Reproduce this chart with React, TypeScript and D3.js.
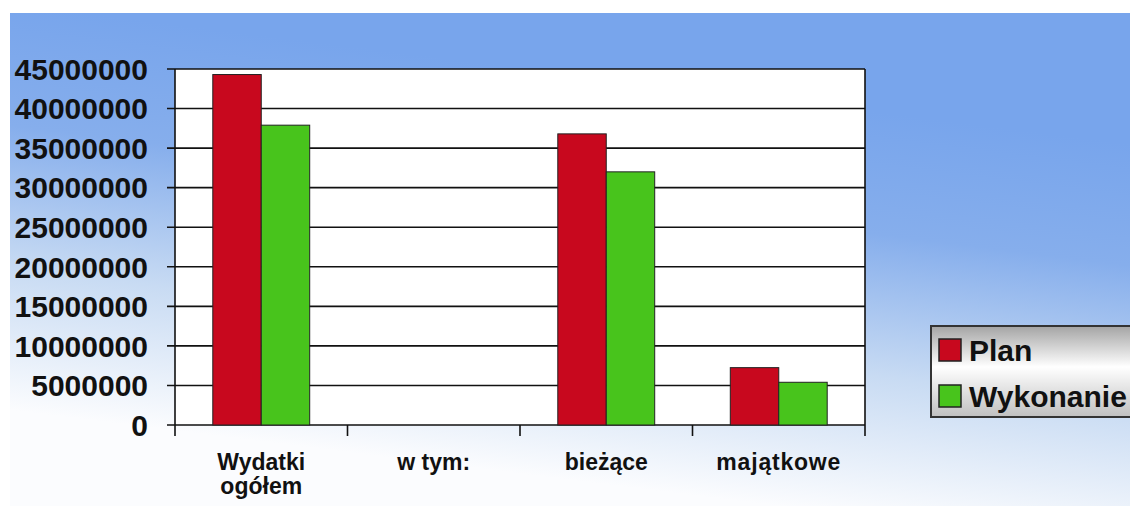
import React from "react";
import * as d3 from "d3";

const categories = ["Wydatki ogółem", "w tym:", "bieżące", "majątkowe"];
const categoryLines = [["Wydatki", "ogółem"], ["w tym:"], ["bieżące"], ["majątkowe"]];
const seriesNames = ["Plan", "Wykonanie"];
const planValues = [44300000, 0, 36800000, 7250000];
const wykonanieValues = [37900000, 0, 32000000, 5400000];
const seriesColors = ["#c8081e", "#48c41c"];

const width = 1130;
const height = 506;
const plot = { left: 175, right: 865, top: 69, bottom: 425 };
const font = "'Liberation Sans', Arial, sans-serif";

const App = () => {
  const y = d3.scaleLinear().domain([0, 45000000]).range([plot.bottom, plot.top]);
  const x0 = d3.scaleBand<string>().domain(categories).range([plot.left, plot.right]).padding(0);
  const x1 = d3
    .scaleBand<string>()
    .domain(seriesNames)
    .range([0, x0.bandwidth()])
    .paddingInner(0)
    .paddingOuter(0.78);
  const yTicks = y.ticks(10);
  const series = [planValues, wykonanieValues];
  const tickEdges = [...categories.map((c) => x0(c) as number), plot.right];

  return (
    <svg
      width={width}
      height={height}
      style={{ position: "absolute", left: 0, top: 0, display: "block" }}
    >
      <defs>
        <linearGradient id="bg" gradientUnits="userSpaceOnUse" x1={620} y1={80} x2={570} y2={480}>
          <stop offset="0" stopColor="#78a5ec" />
          <stop offset="0.3" stopColor="#86aeec" />
          <stop offset="0.65" stopColor="#c8dbf3" />
          <stop offset="1" stopColor="#fbfcfe" />
        </linearGradient>
        <linearGradient id="legbg" x1="0" y1="0" x2="0" y2="1">
          <stop offset="0" stopColor="#a4a4a4" />
          <stop offset="0.45" stopColor="#ffffff" />
          <stop offset="1" stopColor="#c0c0c0" />
        </linearGradient>
      </defs>
      <rect x={0} y={0} width={width} height={height} fill="#ffffff" />
      <rect x={10} y={13} width={width - 10} height={height - 13} fill="url(#bg)" />

      {/* plot area */}
      <rect
        x={plot.left}
        y={plot.top}
        width={plot.right - plot.left}
        height={plot.bottom - plot.top}
        fill="#ffffff"
      />
      {yTicks.map((t) => (
        <g key={t}>
          <line x1={plot.left - 8} x2={plot.right} y1={y(t)} y2={y(t)} stroke="#111" strokeWidth={1.6} />
          <text
            x={148}
            y={y(t)}
            dy="0.36em"
            textAnchor="end"
            fontFamily={font}
            fontWeight="bold"
            fontSize={30}
            fill="#111"
          >
            {t}
          </text>
        </g>
      ))}
      <line x1={plot.left} x2={plot.left} y1={plot.top} y2={plot.bottom} stroke="#111" strokeWidth={1.6} />
      <line x1={plot.right} x2={plot.right} y1={plot.top} y2={plot.bottom} stroke="#111" strokeWidth={1.6} />
      {tickEdges.map((tx, i) => (
        <line key={i} x1={tx} x2={tx} y1={plot.bottom} y2={plot.bottom + 11} stroke="#111" strokeWidth={1.6} />
      ))}

      {/* bars */}
      {categories.map((c, ci) => (
        <g key={c} transform={`translate(${x0(c)},0)`}>
          {seriesNames.map((s, si) =>
            series[si][ci] > 0 ? (
              <rect
                key={s}
                x={x1(s)}
                y={y(series[si][ci])}
                width={x1.bandwidth()}
                height={plot.bottom - y(series[si][ci])}
                fill={seriesColors[si]}
                stroke="#222"
                strokeWidth={1}
              />
            ) : null
          )}
        </g>
      ))}

      {/* category labels */}
      {categories.map((c, ci) => (
        <text
          key={c}
          x={(x0(c) as number) + x0.bandwidth() / 2}
          y={470}
          textAnchor="middle"
          fontFamily={font}
          fontWeight="bold"
          fontSize={23}
          letterSpacing={c === "majątkowe" ? 0.8 : 0}
          fill="#111"
        >
          {categoryLines[ci].map((l, li) => (
            <tspan key={li} x={(x0(c) as number) + x0.bandwidth() / 2} dy={li === 0 ? 0 : 24}>
              {l}
            </tspan>
          ))}
        </text>
      ))}

      {/* legend */}
      <rect x={931} y={326} width={210} height={91} fill="url(#legbg)" stroke="#333" strokeWidth={2} />
      {seriesNames.map((s, si) => (
        <g key={s} transform={`translate(939,${339 + si * 46})`}>
          <rect x={0} y={0} width={22} height={22} fill={seriesColors[si]} stroke="#222" strokeWidth={1.5} />
          <text x={30} y={22} fontFamily={font} fontWeight="bold" fontSize={30} fill="#111">
            {s}
          </text>
        </g>
      ))}
    </svg>
  );
};

export default App;
